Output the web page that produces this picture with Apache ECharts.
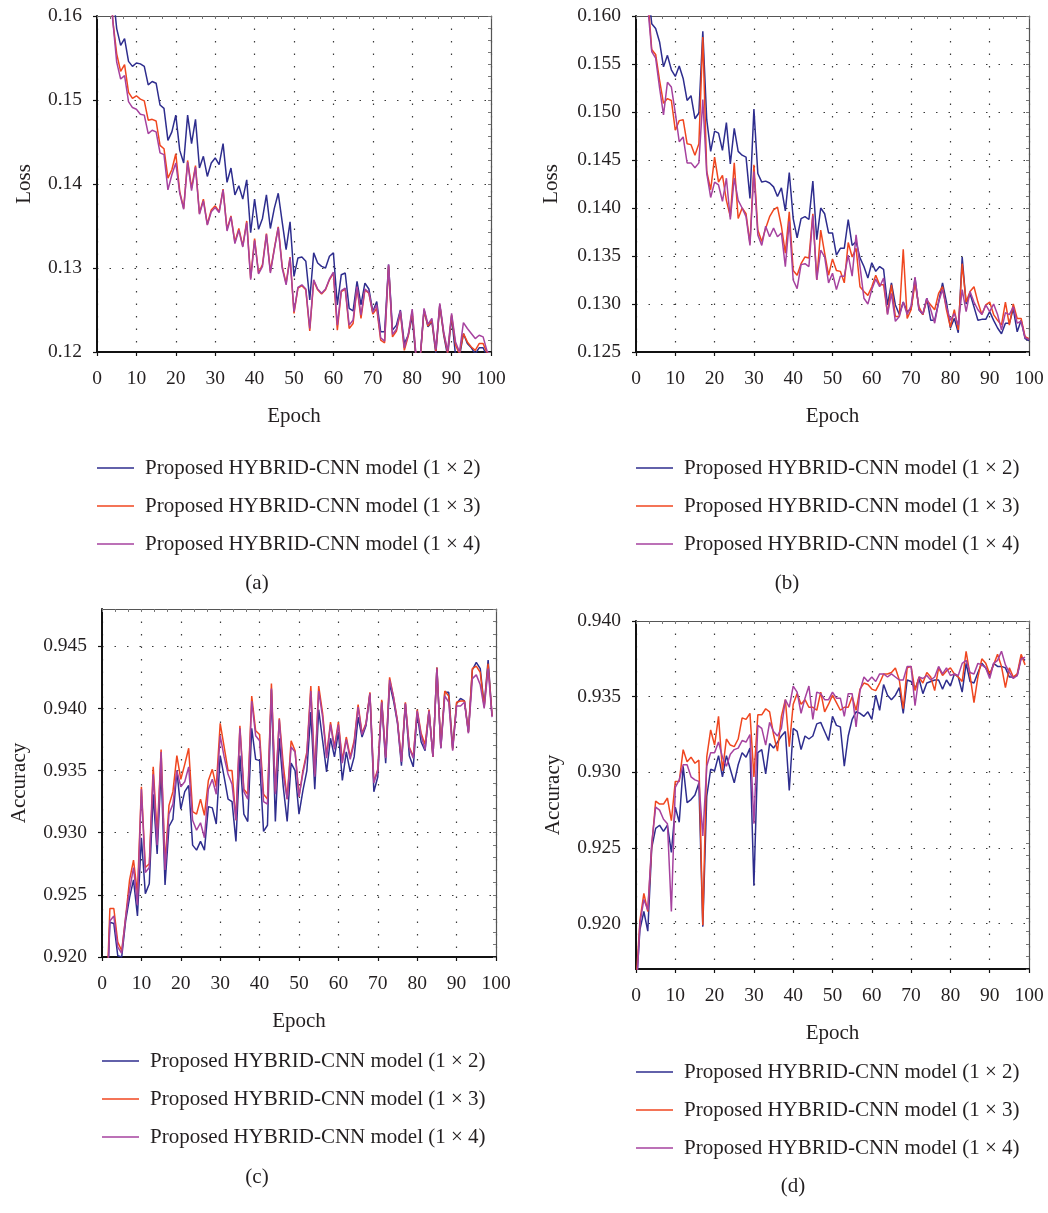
<!DOCTYPE html>
<html>
<head>
<meta charset="utf-8">
<script src="https://cdn.jsdelivr.net/npm/echarts@6/dist/echarts.min.js"></script>
<style>
html, body { margin: 0; padding: 0; background: #fff; }
#chart { width: 1048px; height: 1213px; }
</style>
</head>
<body>
<div id="chart"></div>
<script>
var names = ['Proposed HYBRID-CNN model (1 \u00d7 2)', 'Proposed HYBRID-CNN model (1 \u00d7 3)', 'Proposed HYBRID-CNN model (1 \u00d7 4)'];
var colors = ['#2e2d8e', '#f0461f', '#a6429f'];

// (a) loss, epochs 1..100
var lossA_12 = [0.200,0.185,0.172,0.163,0.1585,0.1565,0.1573,0.1546,0.1540,0.1544,
  0.1543,0.1540,0.1518,0.1522,0.1520,0.1494,0.1490,0.1452,0.1462,0.1482,
  0.1440,0.1425,0.1482,0.1448,0.1477,0.1419,0.1433,0.1409,0.1425,0.1431,
  0.1423,0.1448,0.1402,0.1419,0.1387,0.1398,0.1382,0.1405,0.1342,0.1382,
  0.1346,0.1359,0.1387,0.1347,0.1371,0.1389,0.1355,0.1322,0.1355,0.1290,
  0.1312,0.1313,0.1308,0.1262,0.1318,0.1306,0.1302,0.1300,0.1314,0.1318,
  0.1256,0.1292,0.1294,0.1252,0.1249,0.1284,0.1256,0.1282,0.1275,0.1248,
  0.1260,0.1224,0.1224,0.1304,0.1226,0.1232,0.1250,0.1210,0.1220,0.1242,
  0.1190,0.1192,0.1250,0.1230,0.1236,0.1198,0.1256,0.1220,0.1195,0.1242,
  0.1196,0.1194,0.1222,0.1210,0.1205,0.1198,0.1205,0.1205,0.1195,0.1190];
var lossA_13 = [0.195,0.180,0.168,0.1595,0.1555,0.1534,0.1542,0.1509,0.1502,0.1505,
  0.1501,0.1499,0.1476,0.1477,0.1475,0.1446,0.1442,0.1407,0.1417,0.1436,
  0.1391,0.1371,0.1428,0.1395,0.1422,0.1365,0.1382,0.1352,0.1369,0.1374,
  0.1367,0.1394,0.1346,0.1362,0.1331,0.1347,0.1326,0.1356,0.1288,0.1335,
  0.1294,0.1304,0.1341,0.1296,0.1323,0.1349,0.1302,0.1282,0.1313,0.1246,
  0.1276,0.1279,0.1274,0.1225,0.1285,0.1274,0.1269,0.1274,0.1286,0.1294,
  0.1226,0.1272,0.1275,0.1228,0.1234,0.1277,0.1240,0.1274,0.1270,0.1245,
  0.1252,0.1214,0.1211,0.1302,0.1218,0.1225,0.1247,0.1202,0.1219,0.1249,
  0.1192,0.1190,0.1250,0.1231,0.1238,0.1201,0.1256,0.1222,0.1199,0.1244,
  0.1208,0.1198,0.1222,0.1212,0.1206,0.1202,0.1210,0.1210,0.1199,0.1195];
var lossA_14 = [0.194,0.179,0.167,0.1595,0.1545,0.1525,0.1529,0.1498,0.1491,0.1489,
  0.1483,0.1482,0.1460,0.1464,0.1462,0.1437,0.1435,0.1393,0.1411,0.1425,
  0.1389,0.1370,0.1426,0.1392,0.1420,0.1364,0.1380,0.1351,0.1367,0.1372,
  0.1366,0.1393,0.1344,0.1361,0.1329,0.1345,0.1325,0.1354,0.1286,0.1333,
  0.1293,0.1302,0.1340,0.1294,0.1322,0.1348,0.1300,0.1280,0.1312,0.1248,
  0.1277,0.1280,0.1275,0.1228,0.1286,0.1275,0.1270,0.1275,0.1287,0.1295,
  0.1232,0.1273,0.1276,0.1232,0.1238,0.1278,0.1244,0.1275,0.1271,0.1247,
  0.1256,0.1217,0.1213,0.1304,0.1221,0.1227,0.1249,0.1205,0.1221,0.1251,
  0.1194,0.1192,0.1252,0.1233,0.1240,0.1203,0.1258,0.1224,0.1201,0.1246,
  0.1212,0.1200,0.1235,0.1228,0.1222,0.1216,0.1220,0.1218,0.1201,0.1196];

// (b) loss, epochs 1..100
var lossB_12 = [0.190,0.175,0.163,0.1592,0.1587,0.1573,0.1547,0.1559,0.1544,0.1537,
  0.1548,0.1535,0.1512,0.1517,0.1493,0.1499,0.1584,0.1492,0.1459,0.1480,
  0.1478,0.1460,0.1489,0.1446,0.1483,0.1459,0.1455,0.1453,0.1410,0.1503,
  0.1436,0.1427,0.1428,0.1426,0.1422,0.1412,0.1421,0.1397,0.1437,0.1389,
  0.1369,0.1389,0.1391,0.1388,0.1428,0.1367,0.1400,0.1394,0.1374,0.1374,
  0.1351,0.1358,0.1358,0.1388,0.1361,0.1365,0.1348,0.1339,0.1327,0.1343,
  0.1334,0.1339,0.1336,0.1299,0.1322,0.1299,0.1289,0.1302,0.1292,0.1295,
  0.1327,0.1294,0.1289,0.1306,0.1283,0.1283,0.1302,0.1322,0.1302,0.1275,
  0.1285,0.1270,0.1349,0.1300,0.1311,0.1297,0.1283,0.1284,0.1284,0.1292,
  0.1283,0.1275,0.1269,0.1280,0.1280,0.1295,0.1271,0.1283,0.1264,0.1262];
var lossB_13 = [0.188,0.173,0.162,0.1565,0.1560,0.1533,0.1509,0.1514,0.1512,0.1481,
  0.1491,0.1492,0.1467,0.1466,0.1455,0.1467,0.1578,0.1438,0.1419,0.1453,
  0.1427,0.1434,0.1408,0.1391,0.1447,0.1389,0.1400,0.1394,0.1363,0.1445,
  0.1377,0.1365,0.1379,0.1391,0.1398,0.1401,0.1381,0.1353,0.1396,0.1335,
  0.1330,0.1342,0.1349,0.1348,0.1394,0.1325,0.1377,0.1353,0.1330,0.1347,
  0.1335,0.1334,0.1322,0.1364,0.1349,0.1358,0.1318,0.1313,0.1309,0.1318,
  0.1330,0.1320,0.1320,0.1290,0.1320,0.1287,0.1287,0.1357,0.1285,0.1294,
  0.1322,0.1297,0.1289,0.1304,0.1299,0.1294,0.1311,0.1318,0.1294,0.1276,
  0.1294,0.1273,0.1342,0.1302,0.1313,0.1318,0.1302,0.1289,0.1299,0.1302,
  0.1289,0.1283,0.1278,0.1302,0.1278,0.1300,0.1285,0.1285,0.1266,0.1264];
var lossB_14 = [0.187,0.172,0.161,0.1563,0.1556,0.1525,0.1497,0.1531,0.1526,0.1499,
  0.1469,0.1474,0.1447,0.1447,0.1442,0.1447,0.1513,0.1436,0.1411,0.1427,
  0.1424,0.1407,0.1431,0.1388,0.1431,0.1408,0.1400,0.1391,0.1361,0.1438,
  0.1372,0.1361,0.1381,0.1370,0.1379,0.1370,0.1374,0.1339,0.1386,0.1325,
  0.1316,0.1341,0.1342,0.1339,0.1392,0.1325,0.1356,0.1349,0.1322,0.1332,
  0.1315,0.1329,0.1329,0.1351,0.1329,0.1372,0.1339,0.1306,0.1300,0.1315,
  0.1326,0.1318,0.1327,0.1289,0.1311,0.1282,0.1287,0.1302,0.1289,0.1298,
  0.1328,0.1294,0.1290,0.1306,0.1294,0.1280,0.1302,0.1315,0.1297,0.1283,
  0.1290,0.1278,0.1315,0.1292,0.1313,0.1302,0.1294,0.1289,0.1299,0.1292,
  0.1300,0.1289,0.1273,0.1291,0.1289,0.1297,0.1280,0.1282,0.1265,0.1263];

// (c) accuracy, epochs 1..99
var accC_12 = [0.914,0.9228,0.9227,0.9201,0.9200,0.9229,0.9248,0.9262,0.9233,0.9296,
  0.9251,0.9259,0.9331,0.9283,0.9351,0.9258,0.9305,0.9311,0.9350,0.9319,
  0.9333,0.9338,0.9290,0.9286,0.9293,0.9286,0.9321,0.9320,0.9307,0.9362,
  0.9345,0.9327,0.9325,0.9293,0.9362,0.9315,0.9309,0.9384,0.9359,0.9358,
  0.9301,0.9306,0.9415,0.9309,0.9376,0.9337,0.9309,0.9356,0.9350,0.9315,
  0.9334,0.9350,0.9397,0.9335,0.9399,0.9374,0.9349,0.9376,0.9361,0.9381,
  0.9342,0.9365,0.9349,0.9361,0.9393,0.9377,0.9386,0.9412,0.9333,0.9345,
  0.9406,0.9356,0.9420,0.9406,0.9388,0.9354,0.9404,0.9362,0.9353,0.9396,
  0.9373,0.9366,0.9398,0.9361,0.9433,0.9368,0.9413,0.9413,0.9368,0.9404,
  0.9408,0.9406,0.9381,0.9431,0.9437,0.9432,0.9402,0.9439,0.9394];
var accC_13 = [0.915,0.9239,0.9239,0.9212,0.9205,0.9232,0.9262,0.9278,0.9251,0.9337,
  0.9272,0.9275,0.9353,0.9298,0.9367,0.9275,0.9322,0.9333,0.9362,0.9343,
  0.9355,0.9368,0.9317,0.9315,0.9327,0.9314,0.9342,0.9351,0.9337,0.9388,
  0.9369,0.9350,0.9350,0.9310,0.9386,0.9335,0.9331,0.9410,0.9382,0.9379,
  0.9331,0.9327,0.9420,0.9333,0.9392,0.9355,0.9327,0.9374,0.9366,0.9329,
  0.9350,0.9365,0.9418,0.9347,0.9418,0.9396,0.9362,0.9389,0.9369,0.9389,
  0.9358,0.9377,0.9361,0.9374,0.9403,0.9380,0.9388,0.9413,0.9341,0.9351,
  0.9407,0.9361,0.9425,0.9409,0.9390,0.9358,0.9405,0.9369,0.9361,0.9399,
  0.9380,0.9371,0.9399,0.9361,0.9433,0.9369,0.9414,0.9410,0.9367,0.9405,
  0.9406,0.9406,0.9381,0.9432,0.9434,0.9429,0.9401,0.9436,0.9394];
var accC_14 = [0.9145,0.9229,0.9233,0.9208,0.9203,0.9232,0.9254,0.9272,0.9242,0.9335,
  0.9268,0.9272,0.9347,0.9290,0.9365,0.9270,0.9315,0.9323,0.9350,0.9337,
  0.9341,0.9353,0.9310,0.9302,0.9308,0.9296,0.9335,0.9343,0.9331,0.9378,
  0.9361,0.9347,0.9339,0.9310,0.9384,0.9333,0.9327,0.9406,0.9378,0.9374,
  0.9325,0.9323,0.9416,0.9331,0.9391,0.9347,0.9327,0.9369,0.9365,0.9329,
  0.9348,0.9363,0.9414,0.9345,0.9414,0.9393,0.9360,0.9387,0.9367,0.9387,
  0.9356,0.9375,0.9359,0.9372,0.9401,0.9379,0.9387,0.9412,0.9340,0.9350,
  0.9405,0.9360,0.9423,0.9409,0.9389,0.9357,0.9404,0.9368,0.9360,0.9398,
  0.9378,0.9367,0.9398,0.9361,0.9432,0.9368,0.9410,0.9405,0.9366,0.9402,
  0.9402,0.9405,0.9380,0.9424,0.9427,0.9419,0.9400,0.9432,0.9393];

// (d) accuracy, epochs 0..99
var accD_12 = [0.9155,0.9196,0.9208,0.9195,0.9250,0.9263,0.9265,0.9261,0.9265,0.9247,
  0.9277,0.9267,0.9304,0.9280,0.9282,0.9285,0.9293,0.9198,0.9284,0.9302,
  0.9301,0.9311,0.9297,0.9311,0.9302,0.9293,0.9305,0.9313,0.9310,0.9316,
  0.9225,0.9313,0.9315,0.9299,0.9319,0.9316,0.9320,0.9324,0.9327,0.9288,
  0.9329,0.9327,0.9315,0.9324,0.9322,0.9324,0.9332,0.9333,0.9327,0.9321,
  0.9337,0.9331,0.9330,0.9304,0.9324,0.9335,0.9340,0.9339,0.9337,0.9340,
  0.9335,0.9351,0.9341,0.9358,0.9351,0.9348,0.9351,0.9356,0.9339,0.9361,
  0.9360,0.9355,0.9362,0.9352,0.9359,0.9360,0.9361,0.9361,0.9355,0.9361,
  0.9357,0.9365,0.9363,0.9353,0.9372,0.9360,0.9359,0.9366,0.9372,0.9369,
  0.9364,0.9372,0.9370,0.9370,0.9369,0.9363,0.9363,0.9364,0.9376,0.9374];
var accD_13 = [0.916,0.9202,0.9220,0.9208,0.9251,0.9281,0.9279,0.9279,0.9283,0.9268,
  0.9294,0.9294,0.9315,0.9307,0.9310,0.9306,0.9308,0.9199,0.9310,0.9328,
  0.9318,0.9337,0.9301,0.9322,0.9318,0.9317,0.9322,0.9336,0.9335,0.9339,
  0.9297,0.9338,0.9338,0.9342,0.9340,0.9325,0.9314,0.9337,0.9348,0.9317,
  0.9345,0.9352,0.9345,0.9348,0.9343,0.9343,0.9341,0.9353,0.9340,0.9345,
  0.9351,0.9346,0.9341,0.9343,0.9343,0.9350,0.9341,0.9355,0.9359,0.9358,
  0.9355,0.9354,0.9359,0.9365,0.9365,0.9366,0.9369,0.9361,0.9342,0.9369,
  0.9370,0.9354,0.9363,0.9359,0.9366,0.9363,0.9354,0.9369,0.9364,0.9367,
  0.9369,0.9365,0.9363,0.9360,0.9380,0.9364,0.9346,0.9363,0.9375,0.9372,
  0.9365,0.9371,0.9378,0.9370,0.9356,0.9369,0.9363,0.9365,0.9378,0.9371];
var accD_14 = [0.915,0.9200,0.9216,0.9209,0.9253,0.9277,0.9275,0.9269,0.9266,0.9208,
  0.9290,0.9295,0.9305,0.9305,0.9297,0.9295,0.9294,0.9258,0.9304,0.9313,
  0.9313,0.9320,0.9310,0.9304,0.9312,0.9315,0.9316,0.9321,0.9320,0.9325,
  0.9266,0.9331,0.9329,0.9318,0.9333,0.9327,0.9324,0.9329,0.9348,0.9343,
  0.9357,0.9353,0.9339,0.9349,0.9357,0.9335,0.9353,0.9352,0.9348,0.9348,
  0.9353,0.9349,0.9349,0.9337,0.9352,0.9352,0.9330,0.9354,0.9363,0.9360,
  0.9363,0.9360,0.9365,0.9365,0.9363,0.9365,0.9363,0.9361,0.9361,0.9370,
  0.9370,0.9344,0.9363,0.9362,0.9364,0.9361,0.9363,0.9370,0.9365,0.9369,
  0.9364,0.9365,0.9364,0.9372,0.9374,0.9366,0.9365,0.9372,0.9371,0.9369,
  0.9362,0.9372,0.9374,0.9380,0.9371,0.9366,0.9362,0.9364,0.9375,0.9376];

var ticksA = [0.12, 0.13, 0.14, 0.15, 0.16];
var ticksB = [0.125, 0.13, 0.135, 0.14, 0.145, 0.15, 0.155, 0.16];
var ticksC = [0.92, 0.925, 0.93, 0.935, 0.94, 0.945];
var ticksD = [0.92, 0.925, 0.93, 0.935, 0.94];

var FONT = '"Liberation Serif", "DejaVu Serif", serif';
var TXT = '#231f20';

var panels = [
  { grid: {left: 97, top: 16, width: 394, height: 336}, ymin: 0.12, ymax: 0.16, ticks: ticksA, dec: 2,
    yname: 'Loss', ygap: 62, minorY: 0.01 / 7, start: 1, data: [lossA_12, lossA_13, lossA_14],
    legend: {left: 97, top: 457}, label: {x: 257, y: 583, t: '(a)'} },
  { grid: {left: 636, top: 16, width: 393, height: 336}, ymin: 0.125, ymax: 0.16, ticks: ticksB, dec: 3,
    yname: 'Loss', ygap: 74, minorY: 0.00125, start: 1, data: [lossB_12, lossB_13, lossB_14],
    legend: {left: 636, top: 457}, label: {x: 787, y: 583, t: '(b)'} },
  { grid: {left: 102, top: 609, width: 394, height: 348}, ymin: 0.92, ymax: 0.948, ticks: ticksC, dec: 3,
    yname: 'Accuracy', ygap: 72, minorY: 0.001, start: 1, data: [accC_12, accC_13, accC_14],
    legend: {left: 102, top: 1050}, label: {x: 257, y: 1177, t: '(c)'} },
  { grid: {left: 636, top: 621, width: 393, height: 348}, ymin: 0.917, ymax: 0.94, ticks: ticksD, dec: 3,
    yname: 'Accuracy', ygap: 72, minorY: 0.005 / 6, start: 0, data: [accD_12, accD_13, accD_14],
    legend: {left: 636, top: 1061}, label: {x: 793, y: 1186, t: '(d)'} }
];

var dotted = { color: '#3a3a3a', width: 1.2, type: [1.5, 11] };
var option = {
  animation: false,
  backgroundColor: '#fff',
  grid: [], xAxis: [], yAxis: [], series: [], legend: [], graphic: []
};

panels.forEach(function (p, i) {
  option.grid.push(p.grid);
  // bottom x axis
  option.xAxis.push({
    type: 'value', gridIndex: i, position: 'bottom', min: 0, max: 100, interval: 10,
    name: 'Epoch', nameLocation: 'middle', nameGap: 54,
    nameTextStyle: { fontFamily: FONT, fontSize: 21, color: TXT },
    axisLine: { onZero: false, lineStyle: { color: '#111', width: 2 } },
    axisTick: { inside: false, length: 4, lineStyle: { color: '#111', width: 1.2 } },
    axisLabel: { fontFamily: FONT, fontSize: 19.5, color: TXT, margin: 17 },
    splitLine: { show: true, lineStyle: dotted }
  });
  // top frame
  option.xAxis.push({
    type: 'value', gridIndex: i, position: 'top', min: 0, max: 100, interval: 10 / 3,
    axisLine: { onZero: false, lineStyle: { color: '#555', width: 1.2 } },
    axisTick: { inside: true, length: 3, lineStyle: { color: '#777', width: 1 } },
    axisLabel: { show: false }, splitLine: { show: false }
  });
  // left y axis
  option.yAxis.push({
    type: 'value', gridIndex: i, position: 'left', min: p.ymin, max: p.ymax,
    name: p.yname, nameLocation: 'middle', nameGap: p.ygap,
    nameTextStyle: { fontFamily: FONT, fontSize: 21, color: TXT },
    axisLine: { onZero: false, lineStyle: { color: '#111', width: 2 } },
    axisTick: { inside: false, length: 4, lineStyle: { color: '#111', width: 1.2 }, customValues: p.ticks },
    axisLabel: {
      fontFamily: FONT, fontSize: 19.5, color: TXT, margin: 15, customValues: p.ticks,
      formatter: (function (d) { return function (v) { return v.toFixed(d); }; })(p.dec)
    },
    splitLine: { show: true, lineStyle: dotted }
  });
  // right frame
  option.yAxis.push({
    type: 'value', gridIndex: i, position: 'right', min: p.ymin, max: p.ymax, interval: p.minorY,
    axisLine: { onZero: false, lineStyle: { color: '#555', width: 1.2 } },
    axisTick: { inside: true, length: 3, lineStyle: { color: '#777', width: 1 } },
    axisLabel: { show: false }, splitLine: { show: false }
  });
  p.data.forEach(function (vals, k) {
    var pts = [];
    for (var j = 0; j < vals.length; j++) pts.push([p.start + j, vals[j]]);
    option.series.push({
      type: 'line', name: names[k], xAxisIndex: 2 * i, yAxisIndex: 2 * i,
      data: pts, showSymbol: false, symbol: 'none', clip: true,
      lineStyle: { color: colors[k], width: 1.5 }, itemStyle: { color: colors[k] },
      z: 2 + k
    });
  });
  option.legend.push({
    left: p.legend.left, top: p.legend.top, orient: 'vertical', padding: 0,
    icon: 'rect', itemWidth: 37, itemHeight: 1.5, itemGap: 16,
    selectedMode: false, data: names,
    textStyle: { fontFamily: FONT, fontSize: 21, color: TXT, lineHeight: 22, padding: [0, 0, 0, 6] }
  });
  option.graphic.push({
    type: 'text', x: p.label.x, y: p.label.y,
    style: { text: p.label.t, font: '21px ' + FONT, fill: TXT, align: 'center', verticalAlign: 'middle' }
  });
});

var chart = echarts.init(document.getElementById('chart'));
chart.setOption(option);
</script>
</body>
</html>
